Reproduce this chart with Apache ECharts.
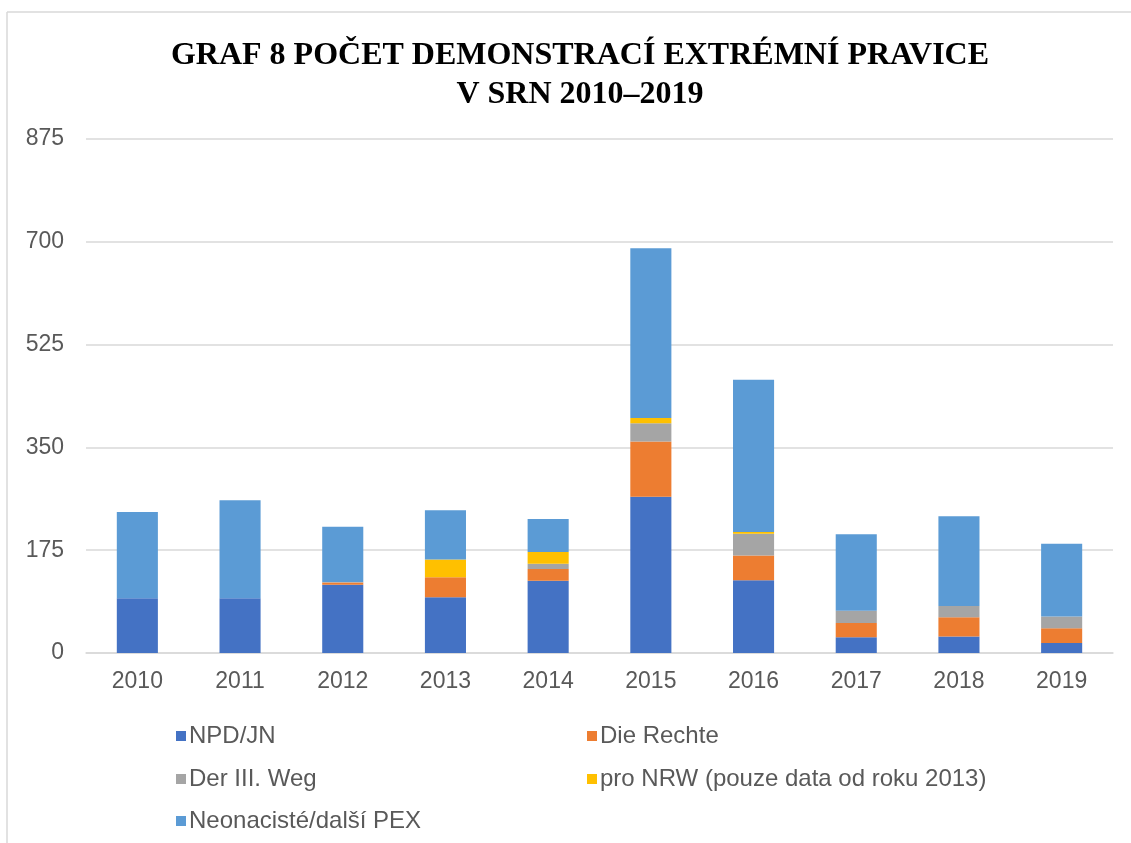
<!DOCTYPE html>
<html>
<head>
<meta charset="utf-8">
<script src="https://cdn.jsdelivr.net/npm/echarts@6/dist/echarts.min.js"></script>
<style>
  html, body { margin: 0; padding: 0; background: #fff; }
  #chart { width: 1131px; height: 843px; }
</style>
</head>
<body>
<div id="chart"></div>
<script>
const years = ['2010', '2011', '2012', '2013', '2014', '2015', '2016', '2017', '2018', '2019'];
const yTicks = [0, 175, 350, 525, 700, 875];

const npd = [93, 93, 116, 95, 123, 266, 124, 27, 28, 17];
const dieRechte = [0, 0, 4, 34, 20, 94, 42, 24, 33, 25];
const dritterWeg = [0, 0, 1, 0, 9, 31, 37, 21, 19, 20];
const proNrw = [null, null, null, 30, 20, 9, 3, 0, 0, 0];
const neonazi = [147, 167, 94, 84, 56, 289, 259, 130, 153, 124];

const seriesNames = ['NPD/JN', 'Die Rechte', 'Der III. Weg', 'pro NRW (pouze data od roku 2013)', 'Neonacisté/další PEX'];
const seriesData = [npd, dieRechte, dritterWeg, proNrw, neonazi];
const colors = ['#4472C4', '#ED7D31', '#A5A5A5', '#FFC000', '#5B9BD5'];

// legend slots: two columns, three rows
const legendPos = [
  { left: 171, top: 719 },
  { left: 582, top: 719 },
  { left: 171, top: 762 },
  { left: 582, top: 762 },
  { left: 171, top: 804 }
];

function setChartData(chart) {
  let option = {
    animation: false,
    color: colors,
    title: {
      text: 'GRAF 8 POČET DEMONSTRACÍ EXTRÉMNÍ PRAVICE\nV SRN 2010–2019',
      left: 575,
      top: 31,
      textAlign: 'center',
      textStyle: {
        fontFamily: 'Liberation Serif',
        fontWeight: 'bold',
        fontSize: 32,
        lineHeight: 39,
        color: '#000'
      }
    },
    legend: seriesNames.map((name, i) => ({
      data: [name],
      left: legendPos[i].left,
      top: legendPos[i].top,
      icon: 'rect',
      itemWidth: 10,
      itemHeight: 10,
      itemGap: 0,
      selectedMode: false,
      textStyle: {
        fontFamily: 'Liberation Sans',
        fontSize: 24,
        color: '#595959',
        padding: [0, 0, 0, -2]
      }
    })),
    grid: {
      left: 86,
      right: 18,
      top: 139,
      bottom: 190,
      containLabel: false
    },
    xAxis: {
      type: 'category',
      data: years,
      axisLine: { lineStyle: { color: '#d9d9d9', width: 1.5 } },
      axisTick: { show: false },
      axisLabel: {
        fontFamily: 'Liberation Sans',
        fontSize: 23,
        color: '#595959',
        margin: 17
      }
    },
    yAxis: {
      type: 'value',
      min: yTicks[0],
      max: yTicks[yTicks.length - 1],
      interval: 175,
      axisLine: { show: false },
      axisTick: { show: false },
      splitLine: { lineStyle: { color: '#d9d9d9', width: 1.5 } },
      axisLabel: {
        fontFamily: 'Liberation Sans',
        fontSize: 23,
        color: '#595959',
        margin: 22
      }
    },
    series: seriesNames.map((name, i) => ({
      name: name,
      type: 'bar',
      stack: 'total',
      barWidth: '40%',
      data: seriesData[i]
    })),
    graphic: [
      {
        type: 'line',
        shape: { x1: 7, y1: 12, x2: 1131, y2: 12 },
        style: { stroke: '#d9d9d9', lineWidth: 1.5 }
      },
      {
        type: 'line',
        shape: { x1: 7, y1: 12, x2: 7, y2: 843 },
        style: { stroke: '#d9d9d9', lineWidth: 1.5 }
      }
    ]
  };
  chart.setOption(option);
}

const chart = echarts.init(document.getElementById('chart'), null, { renderer: 'canvas' });
setChartData(chart);
</script>
</body>
</html>
